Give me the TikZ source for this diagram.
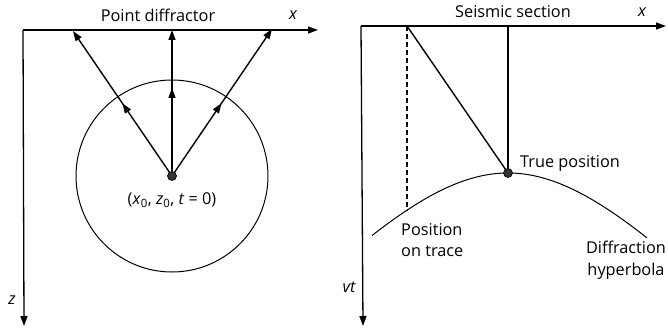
\documentclass[tikz,border=0pt]{standalone}
\usepackage{fontspec}
\setmainfont{Open Sans}
\usetikzlibrary{arrows.meta,decorations.markings}
\begin{document}
\begin{tikzpicture}[x=1pt,y=-1pt,
  axis/.style={line width=1.3pt,-{Triangle[length=10pt,width=7pt]}},
  ray/.style={line width=1.4pt,-{Triangle[length=10pt,width=7pt]},
    postaction={decorate},
    decoration={markings,mark=at position 88pt with {\arrow{Triangle[length=10pt,width=7pt]}}}},
  lbl/.style={font=\fontsize{16.3}{19}\selectfont,inner sep=0pt},
  dotc/.style={circle,fill=black!80,draw=black,line width=0.6pt,minimum size=9pt,inner sep=0pt}]
\useasboundingbox (0,0) rectangle (668,328);
% ---- left panel ----
\coordinate (oL) at (23,30);
\coordinate (xL) at (318,30);
\coordinate (zL) at (24,326);
\draw[axis] (oL) -- (xL);
\draw[axis] (oL) -- (zL);
\node[lbl] (tL) at (158,15) {Point diffractor};
\node[lbl] (xlab) at (293,15) {\itshape x};
\node[lbl] (zlab) at (12,300) {\itshape z};
\coordinate (c) at (172,176);
\draw[line width=1pt] (c) circle (96);
\coordinate (e1) at (73,31);
\coordinate (e2) at (172,30);
\coordinate (e3) at (272,29);
\draw[ray] (c) -- (e1);
\draw[ray] (c) -- (e2);
\draw[ray] (c) -- (e3);
\node[dotc] (src) at (c) {};
\node[lbl] (srclab) at (172,200) {(\textit{x}\textsubscript{0}, \textit{z}\textsubscript{0}, \textit{t} = 0)};
% ---- right panel ----
\coordinate (oR) at (361,26);
\coordinate (xR) at (666,26);
\coordinate (vR) at (363,326);
\draw[axis] (oR) -- (xR);
\draw[axis] (oR) -- (vR);
\node[lbl] (tR) at (513,12) {Seismic section};
\node[lbl] (xRlab) at (642,12) {\itshape x};
\node[lbl] (vtlab) at (349,287) {\itshape vt};
\coordinate (apex) at (508,173);
\coordinate (topT) at (508,26);
\coordinate (topP) at (407,26);
\coordinate (onTr) at (407,{27+10*sqrt(213.16+0.012*(101)*(101))});
\draw[line width=1pt] plot[domain=-136:139,samples=80,smooth] ({508+\x},{27+10*sqrt(213.16+0.012*(\x)*(\x))});
\draw[line width=1.4pt] (topT) -- (apex);
\draw[line width=1.4pt] (topP) -- (apex);
\draw[line width=1.4pt,dash pattern=on 5pt off 3pt] (topP) -- (onTr);
\node[dotc] (tp) at (apex) {};
\node[lbl,anchor=west] (tplab) at (520,163) {True position};
\node[lbl,anchor=north west,align=left,font=\fontsize{16.3}{21.5}\selectfont] (potlab) at (401,223) {Position\\on trace};
\node[lbl,anchor=north,align=center,font=\fontsize{16.3}{21.5}\selectfont] (dhlab) at (626,241) {Diffraction\\hyperbola};
\end{tikzpicture}
\end{document}
